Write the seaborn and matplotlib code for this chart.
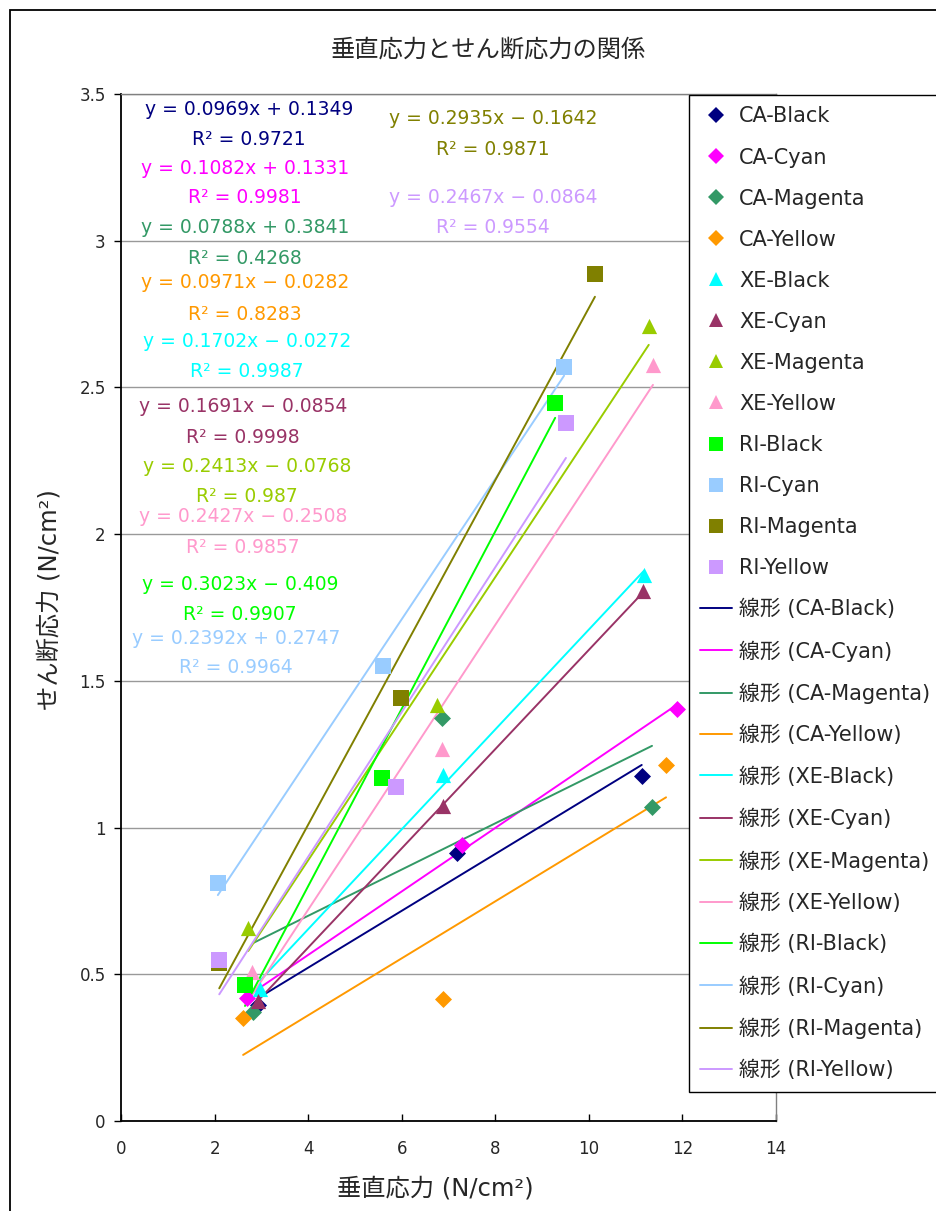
import matplotlib
matplotlib.use("Agg")
import matplotlib.pyplot as plt
from matplotlib.lines import Line2D
from matplotlib.patches import Rectangle
from matplotlib.ticker import FuncFormatter, MultipleLocator
import numpy as np
import pandas as pd
import seaborn as sns

# ---- data -------------------------------------------------------------
series = ["CA-Black", "CA-Cyan", "CA-Magenta", "CA-Yellow",
          "XE-Black", "XE-Cyan", "XE-Magenta", "XE-Yellow",
          "RI-Black", "RI-Cyan", "RI-Magenta", "RI-Yellow"]

normal_stress = [
    [2.93, 7.18, 11.13],
    [2.69, 7.29, 11.88],
    [2.82, 6.86, 11.35],
    [2.61, 6.88, 11.65],
    [2.97, 6.88, 11.18],
    [2.93, 6.88, 11.16],
    [2.72, 6.75, 11.28],
    [2.80, 6.86, 11.37],
    [2.65, 5.58, 9.28],
    [2.07, 5.60, 9.47],
    [2.10, 5.98, 10.13],
    [2.10, 5.88, 9.51],
]

shear_stress = [
    [0.395, 0.913, 1.176],
    [0.420, 0.940, 1.404],
    [0.372, 1.374, 1.070],
    [0.350, 0.416, 1.213],
    [0.450, 1.180, 1.860],
    [0.410, 1.074, 1.806],
    [0.658, 1.418, 2.710],
    [0.508, 1.268, 2.577],
    [0.463, 1.170, 2.447],
    [0.810, 1.551, 2.570],
    [0.538, 1.440, 2.887],
    [0.549, 1.138, 2.379],
]

slope = [0.0969, 0.1082, 0.0788, 0.0971, 0.1702, 0.1691,
         0.2413, 0.2427, 0.3023, 0.2392, 0.2935, 0.2467]
intercept = [0.1349, 0.1331, 0.3841, -0.0282, -0.0272, -0.0854,
             -0.0768, -0.2508, -0.409, 0.2747, -0.1642, -0.0864]
r_squared = [0.9721, 0.9981, 0.4268, 0.8283, 0.9987, 0.9998,
             0.987, 0.9857, 0.9907, 0.9964, 0.9871, 0.9554]

# ---- styling ----------------------------------------------------------
colors = ["#000080", "#FF00FF", "#339966", "#FF9900",
          "#00FFFF", "#993366", "#99CC00", "#FF99CC",
          "#00FF00", "#99CCFF", "#808000", "#CC99FF"]
markers = ["D"] * 4 + ["^"] * 4 + ["s"] * 4
marker_sizes = {"D": 75, "^": 120, "s": 125}

# equation label anchors (data coords): x centre, y of equation, y of R²
label_pos = [
    (2.74, 3.446, 3.344), (2.65, 3.245, 3.146), (2.65, 3.044, 2.941),
    (2.65, 2.856, 2.750), (2.69, 2.658, 2.553), (2.61, 2.434, 2.328),
    (2.69, 2.232, 2.127), (2.61, 2.059, 1.953), (2.55, 1.830, 1.725),
    (2.46, 1.646, 1.544), (7.95, 3.418, 3.310), (7.95, 3.146, 3.044),
]

sns.set_style("white")
plt.rcParams["font.family"] = ["DejaVu Sans", "Noto Sans CJK JP"]
plt.rcParams["axes.unicode_minus"] = True

W, H = 937, 1211
fig = plt.figure(figsize=(W / 100, H / 100), dpi=100)
fig.patch.set_facecolor("white")

# outer chart frame
fig.add_artist(Rectangle((10 / W, -0.01), 1.0, 1 - 10 / H + 0.01,
                         transform=fig.transFigure, fill=False,
                         edgecolor="black", linewidth=1.3))

ax = fig.add_axes([121 / W, 1 - 1121 / H, (776 - 121) / W, (1121 - 94) / H])
ax.set_xlim(0, 14)
ax.set_ylim(0, 3.5)


def fmt_num(v):
    return f"{v:.4f}".rstrip("0").rstrip(".")


# trend lines over each series' data range
for i, name in enumerate(series):
    xs = np.array([min(normal_stress[i]), max(normal_stress[i])])
    ys = slope[i] * xs + intercept[i]
    sns.lineplot(x=xs, y=ys, color=colors[i], linewidth=1.4, ax=ax,
                 zorder=2, legend=False)

# data points
for i, name in enumerate(series):
    df = pd.DataFrame({"x": normal_stress[i], "y": shear_stress[i]})
    sns.scatterplot(data=df, x="x", y="y", marker=markers[i],
                    color=colors[i], s=marker_sizes[markers[i]],
                    linewidth=0, ax=ax, zorder=3, legend=False)

# regression equations
for i, name in enumerate(series):
    cx, ye, yr = label_pos[i]
    sign = "+" if intercept[i] >= 0 else "−"
    eq = f"y = {fmt_num(slope[i])}x {sign} {fmt_num(abs(intercept[i]))}"
    ax.text(cx, ye, eq, color=colors[i], fontsize=13.5,
            ha="center", va="center", zorder=4)
    ax.text(cx, yr, f"R² = {fmt_num(r_squared[i])}", color=colors[i],
            fontsize=13.5, ha="center", va="center", zorder=4)

# axes cosmetics
ax.yaxis.set_major_locator(MultipleLocator(0.5))
ax.xaxis.set_major_locator(MultipleLocator(2))
ax.yaxis.set_major_formatter(FuncFormatter(lambda v, p: f"{v:g}"))
ax.xaxis.set_major_formatter(FuncFormatter(lambda v, p: f"{v:g}"))
ax.grid(axis="y", color="#999999", linewidth=1.0)
ax.grid(axis="x", visible=False)
ax.set_axisbelow(True)
for side in ["left", "bottom"]:
    ax.spines[side].set_color("black")
    ax.spines[side].set_linewidth(1.3)
for side in ["top", "right"]:
    ax.spines[side].set_color("#808080")
    ax.spines[side].set_linewidth(1.0)
ax.tick_params(axis="y", direction="out", length=5, width=1, color="black",
               labelsize=12, pad=6, left=True)
ax.tick_params(axis="x", direction="in", length=5, width=1, color="black",
               labelsize=12, pad=14, bottom=True)

ax.set_xlabel("垂直応力 (N/cm²)", fontsize=17.5)
ax.xaxis.set_label_coords((435 - 121) / 655, -0.054)
ax.set_ylabel("せん断応力 (N/cm²)", fontsize=17.5)
ax.yaxis.set_label_coords(-(121 - 61) / 655, (1121 - 600) / 1027)
fig.text(488 / W, 1 - 50 / H, "垂直応力とせん断応力の関係", fontsize=17.5,
         ha="center", va="center")

# legend: markers first, then trend lines
handles, labels = [], []
for i, name in enumerate(series):
    handles.append(Line2D([], [], linestyle="none", marker=markers[i],
                          color=colors[i],
                          markersize=8 if markers[i] == "D" else 10,
                          markeredgewidth=0))
    labels.append(name)
for i, name in enumerate(series):
    handles.append(Line2D([], [], color=colors[i], linewidth=1.4))
    labels.append(f"線形 ({name})")

leg = fig.legend(handles, labels, loc="upper left",
                 bbox_to_anchor=(689 / W, 1 - 95 / H), fontsize=15,
                 frameon=True, fancybox=False, framealpha=1,
                 edgecolor="black", borderpad=0.55, labelspacing=1.01,
                 handlelength=1.5, handletextpad=0.35, borderaxespad=0)
leg.get_frame().set_linewidth(1.0)

fig.savefig("out.png", dpi=100, facecolor="white")
